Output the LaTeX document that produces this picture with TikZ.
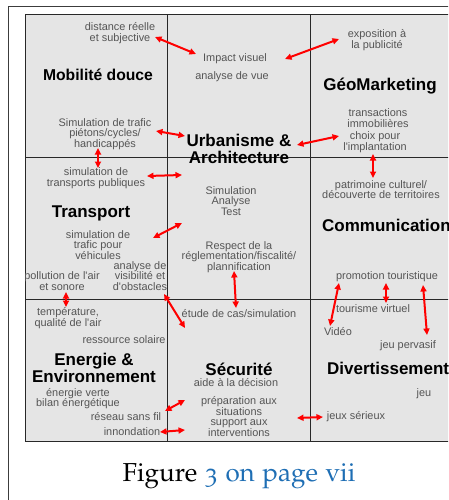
\documentclass[tikz,border=0pt]{standalone}
\usepackage[T1]{fontenc}
\usepackage{fontspec}
\newfontfamily\arialf{Liberation Sans}
\usetikzlibrary{arrows.meta}
\definecolor{cellfill}{RGB}{229,229,229}
\definecolor{txtgray}{RGB}{85,85,85}
\definecolor{gridcol}{RGB}{40,40,40}
\definecolor{framecol}{RGB}{60,60,60}
\definecolor{linkblue}{RGB}{30,110,180}
\definecolor{arrred}{RGB}{255,0,0}
\begin{document}
\begin{tikzpicture}[x=1pt,y=-1pt,
  small/.style={text=txtgray, font=\arialf\fontsize{10.9}{10.6}\selectfont, align=center, inner sep=0pt},
  title/.style={text=black, font=\arialf\bfseries\fontsize{17}{17.5}\selectfont, align=center, inner sep=0pt},
  link/.style={draw=arrred, line width=2pt, {Triangle[length=6.5pt,width=6pt]}-{Triangle[length=6.5pt,width=6pt]}},
]
\useasboundingbox (0,0) rectangle (448,500);
\clip (0,0) rectangle (448,500);
% outer frame
\draw[framecol, line width=0.9pt] (8,6) rectangle (470,520);
% grid
\fill[cellfill] (25,15) rectangle (452,441);
\draw[gridcol, line width=1pt] (25,15) rectangle (452,441);
\draw[gridcol, line width=1pt] (167,15) -- (167,441) (310,15) -- (310,441)
  (25,157) -- (452,157) (25,299) -- (452,299);

% Mobilite douce
\node[small] (mddist) at (120,33) {distance réelle\\et subjective};
\node[title, font=\arialf\bfseries\fontsize{15.7}{17}\selectfont] (mdtitle) at (98,75) {Mobilité douce};
\node[small] (mdsim) at (105,134) {Simulation de trafic\\piétons/cycles/\\handicappés};

% Urbanisme
\node[small] (uaimpact) at (235,59) {Impact visuel};
\node[small] (uavue) at (232,77) {analyse de vue};
\node[title] (uatitle) at (239,149) {Urbanisme \&\\Architecture};
\node[small] (uasim) at (231,201) {Simulation\\Analyse\\Test};
\node[small] (uaresp) at (239,257) {Respect de la\\réglementation/fiscalité/\\plannification};

% GeoMarketing
\node[small] (gmexpo) at (377,40) {exposition à\\la publicité};
\node[title] (gmtitle) at (380,86) {GéoMarketing};
\node[small] (gmtrans) at (378,118) {transactions\\immobilières};
\node[small] (gmchoix) at (375,142) {choix pour\\l'implantation};

% Transport
\node[small] (trpub) at (96,178) {simulation de\\transports publiques};
\node[title] (trtitle) at (91,213) {Transport};
\node[small] (trveh) at (98,245) {simulation de\\trafic pour\\véhicules};
\node[small] (trpoll) at (62,281) {pollution de l'air\\et sonore};
\node[small] (trvis) at (140,276) {analyse de\\visibilité et\\d'obstacles};

% Communication
\node[small] (copat) at (381,189.5) {patrimoine culturel/\\découverte de territoires};
\node[title, anchor=west] (cotitle) at (322,225) {Communication};
\node[small] (copromo) at (387,277) {promotion touristique};

% Energie
\node[small] (entemp) at (68,318) {température,\\qualité de l'air};
\node[small] (ensol) at (124,340) {ressource solaire};
\node[title] (entitle) at (94,368) {Energie \&\\Environnement};
\node[small] (enverte) at (78,398.5) {énergie verte\\bilan énergétique};
\node[small] (enres) at (126,417) {réseau sans fil};
\node[small] (eninn) at (132,432) {innondation};

% Securite
\node[small] (seetude) at (239,314) {étude de cas/simulation};
\node[title] (setitle) at (239,369) {Sécurité};
\node[small] (seaide) at (236,383) {aide à la décision};
\node[small] (seprep) at (239,416.5) {préparation aux\\situations\\support aux\\interventions};

% Divertissement
\node[small] (ditour) at (373,309) {tourisme virtuel};
\node[small] (divideo) at (338,332) {Vidéo};
\node[small] (diperv) at (408,346) {jeu pervasif};
\node[title, anchor=west] (dititle) at (327,368) {Divertissement};
\node[small] (dijeu) at (424,394) {jeu};
\node[small] (diserieux) at (356,417) {jeux sérieux};

% arrow end points
\coordinate (a1s) at (155,37);  \coordinate (a1e) at (196,54);
\coordinate (a2s) at (285,59);  \coordinate (a2e) at (339,39);
\coordinate (a3s) at (156,131); \coordinate (a3e) at (185,136);
\coordinate (a4s) at (297,145); \coordinate (a4e) at (339,136);
\coordinate (a5s) at (98,148);  \coordinate (a5e) at (98,168);
\coordinate (a6s) at (147,176); \coordinate (a6e) at (182,175);
\coordinate (a7s) at (153,238); \coordinate (a7e) at (182,223);
\coordinate (a8s) at (373,154); \coordinate (a8e) at (373,178);
\coordinate (a9s) at (234,271); \coordinate (a9e) at (236,308);
\coordinate (a10s) at (164,294); \coordinate (a10e) at (185,328);
\coordinate (a11s) at (66,292); \coordinate (a11e) at (66,307);
\coordinate (a12s) at (165,411); \coordinate (a12e) at (185,400);
\coordinate (a13s) at (160,432); \coordinate (a13e) at (185,430);
\coordinate (a14s) at (297,418); \coordinate (a14e) at (323,417);
\coordinate (a15s) at (339,283); \coordinate (a15e) at (330,326);
\coordinate (a16s) at (386,283); \coordinate (a16e) at (386,303);
\coordinate (a17s) at (423,285); \coordinate (a17e) at (427,335);
\foreach \i in {1,...,17} {\draw[link] (a\i s) -- (a\i e);}

% caption
\node[inner sep=0pt] (caption) at (239,476)
  {\fontencoding{T1}\fontfamily{pplj}\fontsize{26}{30}\selectfont Figure \textcolor{linkblue}{3 on page vii}};
\end{tikzpicture}
\end{document}
